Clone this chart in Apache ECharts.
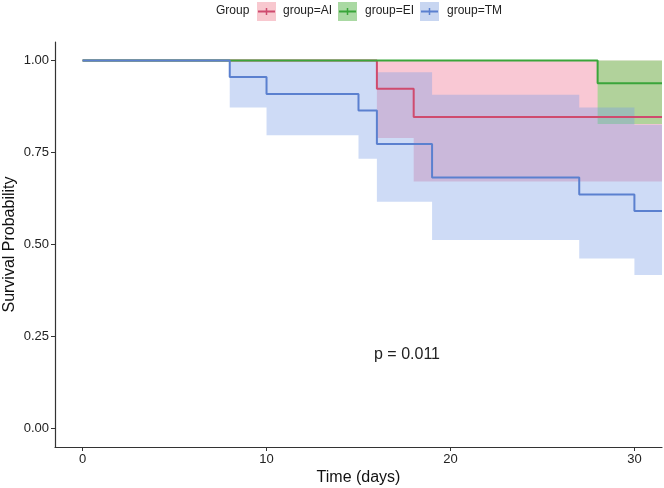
<!DOCTYPE html>
<html>
<head>
<meta charset="utf-8">
<script src="https://cdn.jsdelivr.net/npm/echarts@6/dist/echarts.min.js"></script>
<style>
  html, body { margin: 0; padding: 0; background: #fff; }
  #chart { width: 664px; height: 488px; }
</style>
</head>
<body>
<div id="chart"></div>
<script>
// Kaplan-Meier estimates (time in days)
const groupNames = ['group=AI', 'group=EI', 'group=TM'];

const aiTime = [0, 16, 18, 31.5];
const aiSurv = [1, 0.923, 0.846, 0.846];
const aiUpper = [1, 1, 1, 1];
const aiLower = [1, 0.789, 0.671, 0.671];

const eiTime = [0, 28, 31.5];
const eiSurv = [1, 0.938, 0.938];
const eiUpper = [1, 1, 1];
const eiLower = [1, 0.827, 0.827];

const tmTime = [0, 8, 10, 15, 16, 19, 27, 30, 31.5];
const tmSurv = [1, 0.955, 0.909, 0.864, 0.773, 0.682, 0.636, 0.591, 0.591];
const tmUpper = [1, 1, 1, 1, 0.968, 0.907, 0.872, 0.825, 0.825];
const tmLower = [1, 0.872, 0.797, 0.733, 0.616, 0.512, 0.462, 0.417, 0.417];

const xTicks = [0, 10, 20, 30];
const yTicks = [0, 0.25, 0.5, 0.75, 1];
const pValue = 'p = 0.011';

const lineColors = ['#cf4b6e', '#3aa53a', '#5b80cf'];
const bandColors = ['rgba(238,98,132,0.35)', 'rgba(70,225,70,0.4)', 'rgba(118,156,230,0.36)'];
const legendBoxColors = ['#f8c8cf', '#aad9a3', '#c8d6f1'];

const groups = [
  { time: aiTime, surv: aiSurv, upper: aiUpper, lower: aiLower },
  { time: eiTime, surv: eiSurv, upper: eiUpper, lower: eiLower },
  { time: tmTime, surv: tmSurv, upper: tmUpper, lower: tmLower },
];

const FONT = '"Liberation Sans", Arial, sans-serif';

// step-shaped confidence band polygon
function stepBand(g, api) {
  const top = [], bottom = [];
  for (let i = 0; i < g.time.length - 1; i++) {
    top.push(api.coord([g.time[i], g.upper[i]]), api.coord([g.time[i + 1], g.upper[i]]));
    bottom.push(api.coord([g.time[i], g.lower[i]]), api.coord([g.time[i + 1], g.lower[i]]));
  }
  return top.concat(bottom.reverse());
}

const bandSeries = groups.map((g, k) => ({
  name: groupNames[k] + ' CI',
  type: 'custom',
  z: 2,
  clip: true,
  encode: { x: 0, y: [1, 2] },
  data: g.time.map((t, i) => [t, g.lower[i], g.upper[i]]),
  renderItem: (params, api) => {
    if (params.dataIndex !== 0) return null;
    return {
      type: 'polygon',
      shape: { points: stepBand(g, api) },
      style: { fill: bandColors[k] },
    };
  },
}));

const lineSeries = groups.map((g, k) => ({
  name: groupNames[k],
  type: 'line',
  step: 'end',
  showSymbol: false,
  z: 3,
  data: g.time.map((t, i) => [t, g.surv[i]]),
  lineStyle: { color: lineColors[k], width: 2 },
  itemStyle: { color: lineColors[k] },
}));

// legend drawn as graphic so each key gets a filled box plus line and cross
const legendX = [257, 338, 420];
const legendTextX = [283, 365, 447];
const legendItems = [{
  type: 'text', left: 216, top: 5,
  style: { text: 'Group', font: '12px ' + FONT, fill: '#222' },
}];
legendX.forEach((x, k) => {
  legendItems.push(
    { type: 'rect', shape: { x: x, y: 2, width: 19, height: 19 }, style: { fill: legendBoxColors[k] } },
    { type: 'line', shape: { x1: x + 1, y1: 11.5, x2: x + 18, y2: 11.5 }, style: { stroke: lineColors[k], lineWidth: 2 } },
    { type: 'line', shape: { x1: x + 9.5, y1: 8, x2: x + 9.5, y2: 15 }, style: { stroke: lineColors[k], lineWidth: 1.5 } },
    { type: 'text', left: legendTextX[k], top: 5, style: { text: groupNames[k], font: '12px ' + FONT, fill: '#222' } }
  );
});

const chart = echarts.init(document.getElementById('chart'));

chart.setOption({
  backgroundColor: '#fff',
  animation: false,
  textStyle: { fontFamily: FONT },
  grid: { left: 55, right: 2, top: 42, bottom: 41, containLabel: false, outerBoundsMode: 'none' },
  xAxis: {
    type: 'value',
    min: -1.5,
    max: 31.5,
    name: 'Time (days)',
    nameLocation: 'middle',
    nameGap: 23,
    nameMoveOverlap: false,
    nameTextStyle: { fontSize: 16, color: '#111', fontFamily: FONT },
    axisLine: { onZero: false, lineStyle: { color: '#333', width: 1.2 } },
    axisTick: { customValues: xTicks, length: 4, lineStyle: { color: '#333' } },
    axisLabel: { customValues: xTicks, fontSize: 13, color: '#222', margin: 6 },
    splitLine: { show: false },
  },
  yAxis: {
    type: 'value',
    min: -0.05,
    max: 1.05,
    name: 'Survival Probability',
    nameLocation: 'middle',
    nameRotate: 90,
    nameGap: 37,
    nameMoveOverlap: false,
    nameTextStyle: { fontSize: 16, color: '#111', fontFamily: FONT },
    axisLine: { show: true, onZero: false, lineStyle: { color: '#333', width: 1.2 } },
    axisTick: { show: true, customValues: yTicks, length: 4, lineStyle: { color: '#333' } },
    axisLabel: { customValues: yTicks, fontSize: 13, color: '#222', margin: 6, formatter: v => v.toFixed(2) },
    splitLine: { show: false },
  },
  graphic: [
    ...legendItems,
    { type: 'text', left: 374, top: 347, style: { text: pValue, font: '16px ' + FONT, fill: '#222' } },
  ],
  series: [...bandSeries, ...lineSeries],
});
</script>
</body>
</html>
